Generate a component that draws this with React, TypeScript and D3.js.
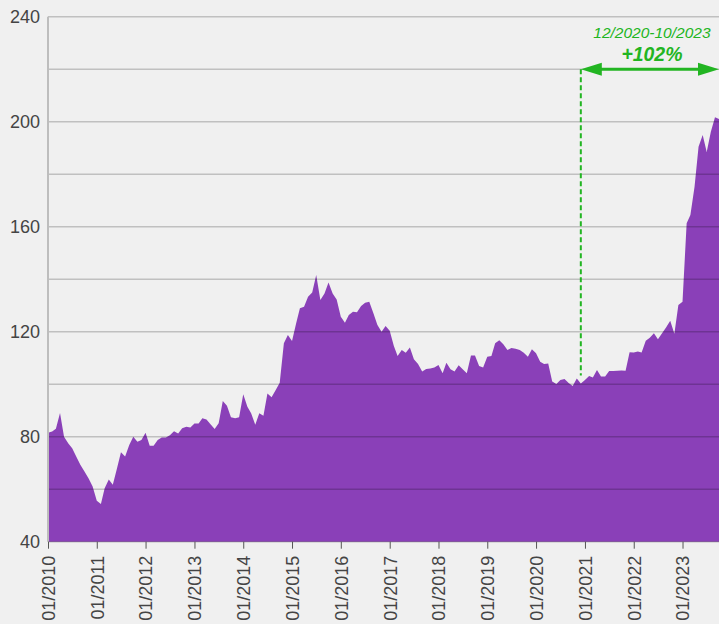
import React, { useRef, useEffect } from "react";
import * as d3 from "d3";

// monthly values, 01/2010 .. 10/2023
const values2010 = [81.5, 82, 83, 89, 80, 77.5, 75.6, 72.4, 69.2, 66.7, 64.1, 61];
const values2011 = [55.6, 54.4, 60.4, 63.7, 61.7, 67.9, 74.1, 72.5, 76.8, 80, 78.1, 78.7];
const values2012 = [81.5, 76.6, 76.6, 78.7, 79.7, 79.7, 80.6, 82.1, 81.2, 83.2, 83.8, 83.5];
const values2013 = [85, 85, 87, 86.6, 84.7, 82.9, 85.1, 93.6, 91.8, 87.4, 87, 87.4];
const values2014 = [96.2, 91.4, 88.9, 84.6, 88.9, 88, 96.5, 95, 97.8, 100.6, 115.6, 118.7];
const values2015 = [116.5, 123.2, 128.9, 129.5, 133.3, 134.9, 141.6, 132.1, 134.6, 138.7, 134.6, 132.3];
const values2016 = [125.7, 123.4, 126.4, 127.6, 127.4, 129.8, 131, 131.4, 127, 122.6, 120, 122.2];
const values2017 = [120.4, 114.6, 110.7, 113, 112, 114, 109.5, 107.7, 104.8, 105.8, 106, 106.4];
const values2018 = [107.3, 104.2, 108.2, 105.7, 104.8, 107.2, 105.7, 104.2, 110.9, 110.9, 106.9, 106.4];
const values2019 = [110.5, 110.7, 115.6, 116.7, 115.2, 113, 113.8, 113.5, 113, 112, 110.5, 113.3];
const values2020 = [111.8, 108.6, 107.7, 107.9, 101, 100.1, 101.6, 102, 100.5, 99.3, 102.2, 100.3];
const values2021 = [101.6, 103.1, 102.6, 105.4, 102.9, 102.9, 105, 105, 105.1, 105.2, 105.1, 112.2];
const values2022 = [112.1, 112.5, 112.1, 116.6, 117.7, 119.4, 117.1, 119.4, 121.7, 124.2, 119.2, 130.2];
const values2023 = [131.4, 161.3, 164.5, 175.2, 190.5, 194.9, 188.5, 196.2, 201.7, 201];

const values = [
  ...values2010, ...values2011, ...values2012, ...values2013, ...values2014,
  ...values2015, ...values2016, ...values2017, ...values2018, ...values2019,
  ...values2020, ...values2021, ...values2022, ...values2023,
];

const startMonth = new Date(2010, 0, 1);
const tickYears = [2010, 2011, 2012, 2013, 2014, 2015, 2016, 2017, 2018, 2019, 2020, 2021, 2022, 2023];
const gridValues = [40, 60, 80, 100, 120, 140, 160, 180, 200, 220, 240];
const labelValues = [40, 80, 120, 160, 200, 240];

// annotation
const annoStart = new Date(2020, 11, 1);
const annoEnd = new Date(2023, 9, 1);
const annoLevel = 220;
const annoPeriod = "12/2020-10/2023";
const annoChange = "+102%";

const green = "#22b522";

const App = () => {
  const ref = useRef(null);

  useEffect(() => {
    const svg = d3.select(ref.current);
    svg.selectAll("*").remove();

    const width = 719, height = 624;
    const margin = { top: 16.7, right: 0, bottom: 82.3, left: 48 };

    const data = values.map((v, i) => ({ date: d3.timeMonth.offset(startMonth, i), value: v }));

    const x = d3.scaleTime()
      .domain([data[0].date, data[data.length - 1].date])
      .range([margin.left, width - margin.right]);
    const y = d3.scaleLinear().domain([40, 240]).range([height - margin.bottom, margin.top]);

    svg.append("rect").attr("width", width).attr("height", height).attr("fill", "#f0f0f0");

    // area
    const area = d3.area()
      .x((d) => x(d.date))
      .y0(y(40))
      .y1((d) => y(d.value));
    svg.append("path").datum(data).attr("d", area).attr("fill", "#8a40b8");

    // grid lines on top of the area
    svg.append("g")
      .selectAll("line")
      .data(gridValues)
      .enter()
      .append("line")
      .attr("x1", margin.left)
      .attr("x2", width)
      .attr("y1", (d) => y(d))
      .attr("y2", (d) => y(d))
      .attr("stroke", "rgba(0,0,0,0.2)")
      .attr("stroke-width", 1.5);

    // left axis line
    svg.append("line")
      .attr("x1", margin.left).attr("x2", margin.left)
      .attr("y1", y(240)).attr("y2", y(40))
      .attr("stroke", "#bdbdbd").attr("stroke-width", 2);

    // y labels
    svg.append("g")
      .selectAll("text")
      .data(labelValues)
      .enter()
      .append("text")
      .attr("x", 40)
      .attr("y", (d) => y(d))
      .attr("dy", "0.35em")
      .attr("text-anchor", "end")
      .attr("font-family", "Liberation Sans, Arial, sans-serif")
      .attr("font-size", 18)
      .attr("fill", "#444")
      .text((d) => d);

    // x axis
    const xAxis = d3.axisBottom(x)
      .tickValues(tickYears.map((yr) => new Date(yr, 0, 1)))
      .tickFormat(d3.timeFormat("%m/%Y"))
      .tickSize(7)
      .tickSizeOuter(0);
    const gx = svg.append("g").attr("transform", `translate(0,${y(40)})`).call(xAxis);
    gx.select(".domain").remove();
    gx.selectAll(".tick line").attr("stroke", "#555");
    gx.selectAll(".tick text")
      .attr("transform", "rotate(-90)")
      .attr("x", -14)
      .attr("y", 0)
      .attr("dy", "0.35em")
      .attr("text-anchor", "end")
      .attr("font-family", "Liberation Sans, Arial, sans-serif")
      .attr("font-size", 18)
      .attr("fill", "#444");

    // annotation
    const xs = x(annoStart), xe = x(annoEnd), ya = y(annoLevel);
    const startVal = values[d3.timeMonth.count(startMonth, annoStart)];
    svg.append("line")
      .attr("x1", xs).attr("x2", xs)
      .attr("y1", ya).attr("y2", y(startVal + 3))
      .attr("stroke", green).attr("stroke-width", 2)
      .attr("stroke-dasharray", "5,3");
    svg.append("line")
      .attr("x1", xs + 10).attr("x2", xe - 10)
      .attr("y1", ya).attr("y2", ya)
      .attr("stroke", green).attr("stroke-width", 3);
    const head = 21, half = 6.5;
    svg.append("path")
      .attr("d", `M${xs},${ya}L${xs + head},${ya - half}L${xs + head},${ya + half}Z`)
      .attr("fill", green);
    svg.append("path")
      .attr("d", `M${xe},${ya}L${xe - head},${ya - half}L${xe - head},${ya + half}Z`)
      .attr("fill", green);
    const cx = (xs + xe) / 2 + 2;
    svg.append("text")
      .attr("x", cx).attr("y", 38)
      .attr("text-anchor", "middle")
      .attr("font-family", "Liberation Sans, Arial, sans-serif")
      .attr("font-size", 15.5)
      .attr("font-style", "italic")
      .attr("fill", green)
      .text(annoPeriod);
    svg.append("text")
      .attr("x", cx).attr("y", 60.5)
      .attr("text-anchor", "middle")
      .attr("font-family", "Liberation Sans, Arial, sans-serif")
      .attr("font-size", 21)
      .attr("font-style", "italic")
      .attr("font-weight", "bold")
      .attr("textLength", 61)
      .attr("lengthAdjust", "spacingAndGlyphs")
      .attr("fill", green)
      .text(annoChange);
  }, []);

  return (
    <svg
      ref={ref}
      width={719}
      height={624}
      style={{ position: "absolute", left: 0, top: 0, display: "block" }}
    />
  );
};

export default App;
